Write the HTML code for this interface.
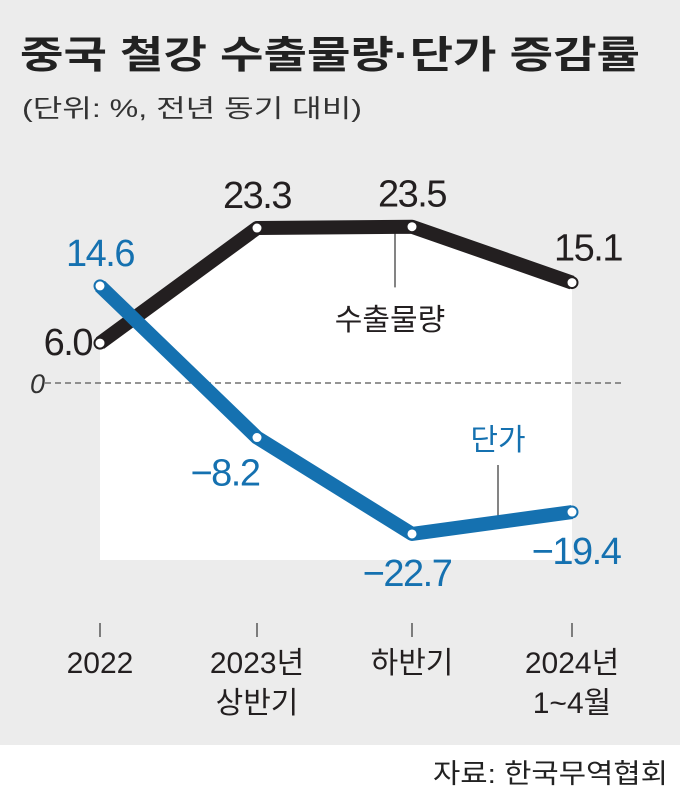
<!DOCTYPE html>
<html><head><meta charset="utf-8"><style>
body{margin:0;width:680px;height:789px;overflow:hidden;background:#fff;font-family:"Liberation Sans Narrow","Liberation Sans","Noto Sans CJK KR",sans-serif;}
svg{display:block}
text{font-family:"Liberation Sans Narrow","Liberation Sans","Noto Sans CJK KR",sans-serif;}
</style></head><body>
<svg width="680" height="789">
<rect x="0" y="0" width="680" height="745" fill="#ececec"/>
<text x="20" y="68" font-size="38" font-weight="bold" fill="#222" textLength="620" lengthAdjust="spacingAndGlyphs">중국 철강 수출물량·단가 증감률</text>
<text x="22" y="117" font-size="25" fill="#333" textLength="340" lengthAdjust="spacingAndGlyphs">(단위: %, 전년 동기 대비)</text>
<g id="plot"></g>
<text x="668" y="783" font-size="27" fill="#222" text-anchor="end" textLength="235" lengthAdjust="spacingAndGlyphs">자료: 한국무역협회</text>
</svg>
<script>
const categories=[["2022"],["2023년","상반기"],["하반기"],["2024년","1~4월"]];
const volume=[6.0,23.3,23.5,15.1];
const price=[14.6,-8.2,-22.7,-19.4];
const xs=[100,257,412,572];
function x(i){return xs[i];}
function y(v){return 383-v*6.65;}
const NS="http://www.w3.org/2000/svg";
const g=document.getElementById('plot');
function mk(t,a,p){const e=document.createElementNS(NS,t);for(const k in a)e.setAttribute(k,a[k]);(p||g).appendChild(e);return e;}
let pts=volume.map((v,i)=>x(i)+","+y(v)).join(" ")+` ${x(3)},560 ${x(0)},560`;
const area=mk('polygon',{points:pts,fill:'#fff'});


const zl=mk('line',{x1:45,x2:622,y1:y(0),y2:y(0),stroke:'#555','stroke-width':1.2,'stroke-dasharray':'6,4'});


const zt=mk('text',{x:30,y:y(0)+10,'font-size':27,'font-style':'italic',fill:'#333'});zt.textContent='0';


const l1=mk('line',{x1:395,x2:395,y1:y(23.4),y2:y(23.4)+60,stroke:'#333','stroke-width':1.2});


const l2=mk('line',{x1:498,x2:498,y1:465,y2:y(-21)-2,stroke:'#333','stroke-width':1.2});


function series(vals,color,name){
  const pl=mk('polyline',{points:vals.map((v,i)=>x(i)+","+y(v)).join(" "),fill:'none',stroke:color,'stroke-width':14,'stroke-linejoin':'round'});
  
  
  vals.forEach((v,i)=>{
    const c=mk('circle',{cx:x(i),cy:y(v),r:5.5,fill:'#fff',stroke:color,'stroke-width':2});
    
    
  });
}
series(volume,'#231f20','volume');
series(price,'#1571b0','price');
const vOff=[[-8,12],[0,-20],[0,-20],[16,-22]];
volume.forEach((v,i)=>{
  const t=mk('text',{x:x(i)+vOff[i][0],y:y(v)+vOff[i][1],'font-size':38,fill:'#231f20','text-anchor':i==0?'end':'middle','letter-spacing':-1.5});
  t.textContent=v.toFixed(1);
  
  
});
const pOff=[[0,-20],[-32,48],[-5,52],[4,52]];
price.forEach((v,i)=>{
  const t=mk('text',{x:x(i)+pOff[i][0],y:y(v)+pOff[i][1],'font-size':38,fill:'#1571b0','text-anchor':'middle','letter-spacing':-1.5});
  t.textContent=(v<0?'\u2212':'')+Math.abs(v).toFixed(1);
  
  
});
const s1=mk('text',{x:390,y:330,'font-size':30,fill:'#231f20','text-anchor':'middle'});s1.textContent='수출물량';


const s2=mk('text',{x:498,y:450,'font-size':30,fill:'#1571b0','text-anchor':'middle'});s2.textContent='단가';


categories.forEach((c,i)=>{
  const tk=mk('line',{x1:x(i),x2:x(i),y1:623,y2:637,stroke:'#333','stroke-width':1.2});
  
  
  c.forEach((s,j)=>{
    const t=mk('text',{x:x(i),y:673+j*40,'font-size':30,fill:'#231f20','text-anchor':'middle'});
    t.textContent=s;
    
    
  });
});
</script>
</body></html>
